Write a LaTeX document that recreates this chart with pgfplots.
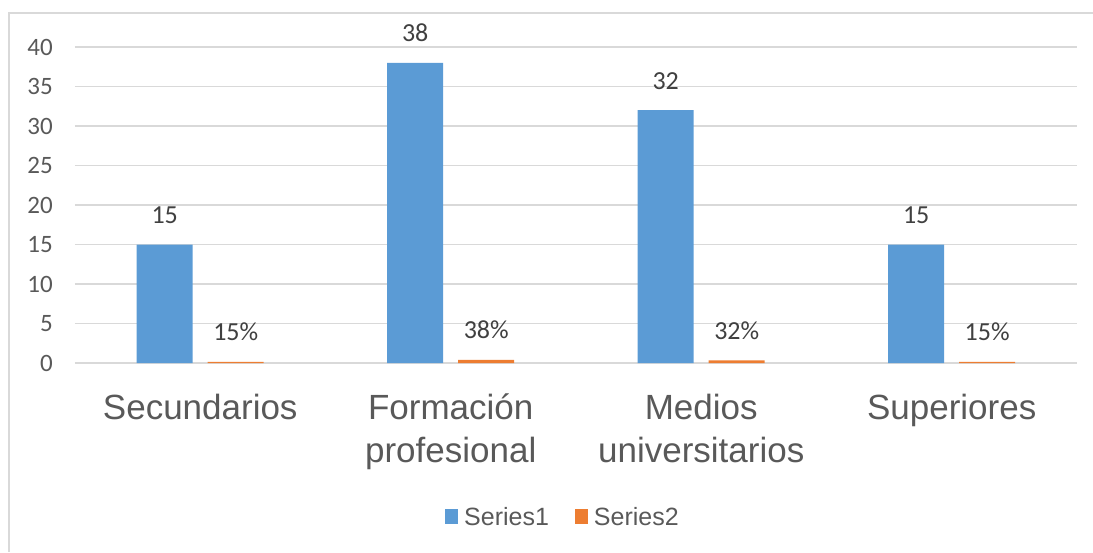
\documentclass[border=0pt]{standalone}
\usepackage{pgfplots}
\pgfplotsset{compat=1.18}
\usepackage{fontspec}
\setmainfont{Liberation Sans}
\newfontfamily\calibri{Carlito}
\definecolor{barblue}{HTML}{5B9BD5}
\definecolor{barorange}{HTML}{ED7D31}
\definecolor{gridgrey}{HTML}{D9D9D9}
\definecolor{textgrey}{HTML}{595959}
\definecolor{labelgrey}{HTML}{404040}

\begin{document}
\begin{tikzpicture}[x=1pt,y=1pt]
\useasboundingbox (0,0) rectangle (1093,552);
% chart frame
\draw[gridgrey, line width=1.2pt] (9,0) -- (9,539) -- (1093,539);
\begin{axis}[
  at={(75pt,189pt)}, anchor=south west,
  scale only axis, width=1002pt, height=316pt,
  ybar=15pt, bar width=56pt,
  xmin=-0.5, xmax=3.5, ymin=0, ymax=40,
  ytick={0,5,...,40},
  xtick=data,
  xticklabels={Secundarios,{Formación\\profesional},{Medios\\universitarios},Superiores},
  axis line style={draw=none},
  axis x line*=bottom,
  major tick length=0pt,
  ymajorgrids, grid style={gridgrey, line width=1.3pt},
  /pgf/number format/assume math mode=true,
  yticklabel style={font=\calibri\fontsize{25}{30}\selectfont, text=textgrey, anchor=east, inner sep=0pt, xshift=-22pt},
  xticklabel style={font=\fontsize{35}{43}\selectfont, text=textgrey, anchor=north, align=center, inner sep=0pt, yshift=-31pt},
  nodes near coords style={font=\calibri\fontsize{26}{30}\selectfont, text=labelgrey, anchor=base, inner sep=0pt, yshift=21pt},
  legend columns=2,
  legend style={at={(0.486,-0.487)}, anchor=center, draw=none, fill=none,
    nodes={inner sep=0pt, font=\fontsize{25}{30}\selectfont, text=textgrey},
    /tikz/every even column/.append style={column sep=26pt},
    /tikz/every odd column/.append style={column sep=6pt}},
  legend image code/.code={\fill[#1,draw=none] (0pt,-7.5pt) rectangle (13pt,7.5pt);},
  clip=false,
]
\addplot[fill=barblue, draw=none, nodes near coords] coordinates {(0,15) (1,38) (2,32) (3,15)};
% shares shown as percentages above the bars
\addplot[fill=barorange, draw=none, point meta={y*100},
  nodes near coords={\pgfmathprintnumber[fixed,precision=0]{\pgfplotspointmeta}\%}]
  coordinates {(0,0.15) (1,0.38) (2,0.32) (3,0.15)};
\legend{Series1,Series2}
\end{axis}
\end{tikzpicture}
\end{document}
